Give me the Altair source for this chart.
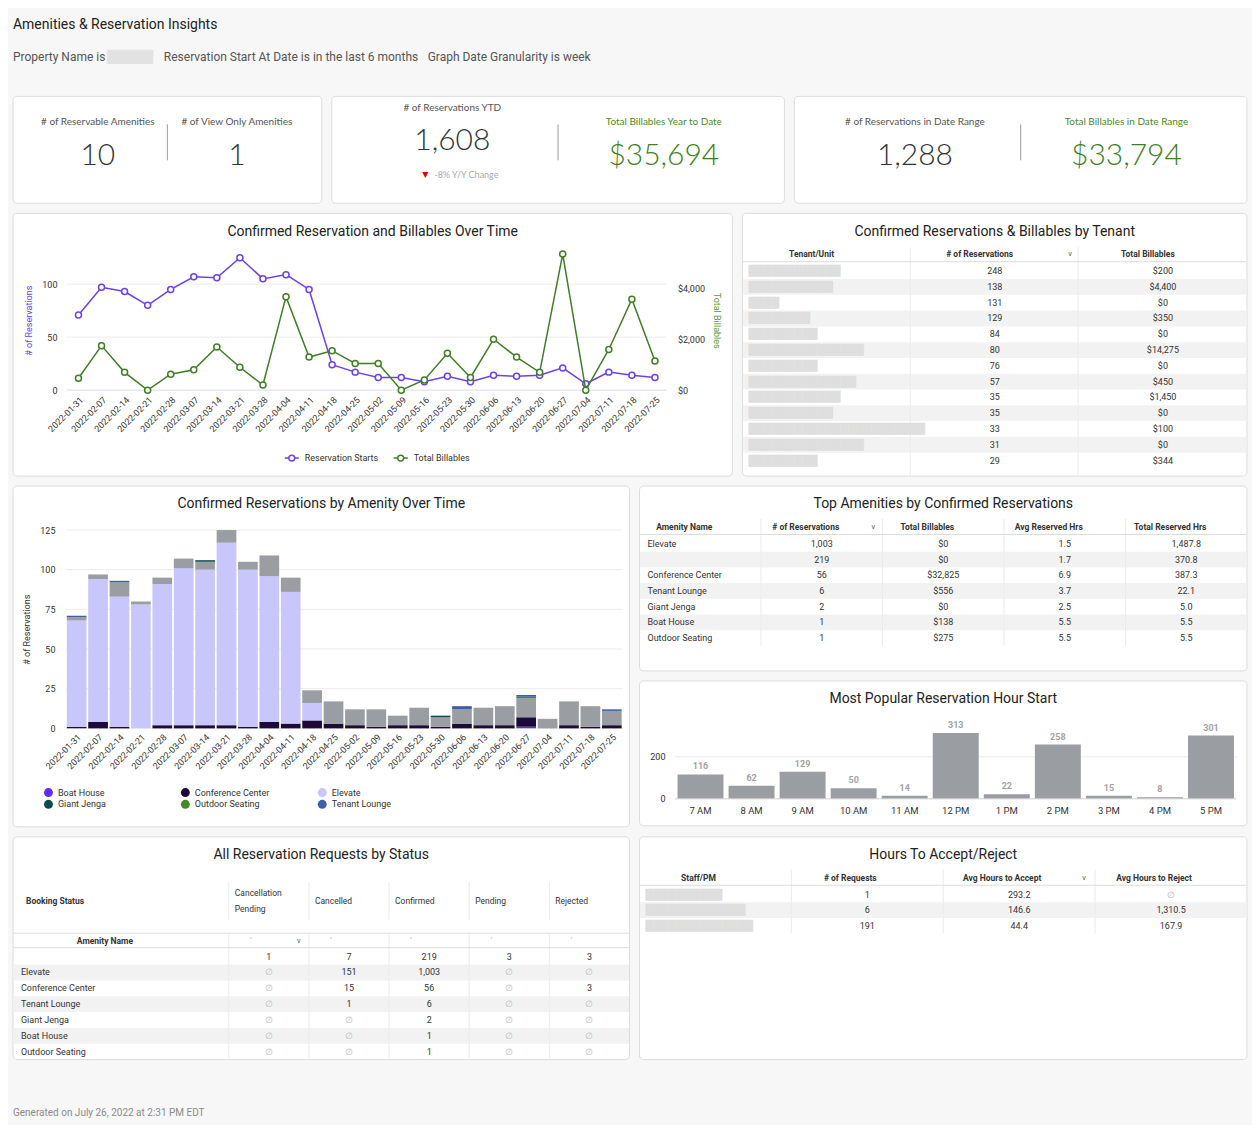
import altair as alt
import pandas as pd

# ------------------------------------------------------------------ data
weeks = ["2022-01-31", "2022-02-07", "2022-02-14", "2022-02-21", "2022-02-28",
         "2022-03-07", "2022-03-14", "2022-03-21", "2022-03-28", "2022-04-04",
         "2022-04-11", "2022-04-18", "2022-04-25", "2022-05-02", "2022-05-09",
         "2022-05-16", "2022-05-23", "2022-05-30", "2022-06-06", "2022-06-13",
         "2022-06-20", "2022-06-27", "2022-07-04", "2022-07-11", "2022-07-18",
         "2022-07-25"]
res_starts = [71, 97, 93, 80, 95, 107, 106, 125, 105, 109, 95, 24, 17, 12, 12,
              8, 13, 8, 14, 13, 14, 21, 6, 17, 14, 12]
billables = [469, 1750, 700, 0, 625, 800, 1700, 900, 200, 3675, 1300, 1550, 1050,
             1050, 0, 400, 1450, 500, 2000, 1300, 700, 5350, 0, 1600, 3575, 1150]
series_names = ["Reservation Starts", "Total Billables"]

UNNAMED = " "
amenity_order = ["Boat House", "Conference Center", "Elevate", UNNAMED,
                 "Giant Jenga", "Outdoor Seating", "Tenant Lounge"]
legend_amenities = ["Boat House", "Conference Center", "Elevate",
                    "Giant Jenga", "Outdoor Seating", "Tenant Lounge"]
amenity_colors = ["#5b2ef2", "#1c0b38", "#c8c6fb", "#9a9da2", "#0e4c4c",
                  "#3f8b24", "#3f5ea8"]
boat_house = [0, 0, 0, 0, 0, 0, 0, 0, 0, 0, 0, 0, 0, 0, 0, 0, 0, 0, 0, 0, 0, 1, 0, 0, 0, 0]
conference = [1, 4, 1, 0, 2, 2, 2, 2, 1, 4, 3, 5, 3, 2, 1, 2, 2, 1, 3, 2, 2, 6, 0, 2, 1, 2]
elevate = [67, 90, 82, 78, 89, 99, 98, 115, 99, 92, 83, 11, 0, 0, 0, 0, 0, 0, 0, 0, 0, 0, 0, 0, 0, 0]
unnamed = [2, 3, 9, 2, 4, 6, 5, 8, 5, 13, 9, 8, 14, 10, 11, 6, 11, 6, 9, 11, 12, 12, 6, 15, 13, 9]
giant_jenga = [0, 0, 0, 0, 0, 0, 1, 0, 0, 0, 0, 0, 0, 0, 0, 0, 0, 1, 0, 0, 0, 0, 0, 0, 0, 0]
outdoor = [0, 0, 0, 0, 0, 0, 0, 0, 0, 0, 0, 0, 0, 0, 0, 0, 0, 0, 0, 0, 0, 1, 0, 0, 0, 0]
tenant_lounge = [1, 0, 1, 0, 0, 0, 0, 0, 0, 0, 0, 0, 0, 0, 0, 0, 0, 0, 2, 0, 0, 1, 0, 0, 0, 1]

hour_labels = ["7 AM", "8 AM", "9 AM", "10 AM", "11 AM", "12 PM", "1 PM", "2 PM",
               "3 PM", "4 PM", "5 PM"]
hour_counts = [116, 62, 129, 50, 14, 313, 22, 258, 15, 8, 301]

kpi1_labels = ["# of Reservable Amenities", "# of View Only Amenities"]
kpi1_values = ["10", "1"]
kpi2_labels = ["# of Reservations YTD", "Total Billables Year to Date"]
kpi2_values = ["1,608", "$35,694"]
kpi2_change = ["▼", "-8%  Y/Y Change"]
kpi3_labels = ["# of Reservations in Date Range", "Total Billables in Date Range"]
kpi3_values = ["1,288", "$33,794"]

tenant_cols = ["Tenant/Unit", "# of Reservations", "Total Billables"]
tenant_names = ["█" * 12, "█" * 11, "█" * 4, "█" * 8, "█" * 9, "█" * 15, "█" * 9,
                "█" * 14, "█" * 12, "█" * 11, "█" * 23, "█" * 15, "█" * 9]
tenant_res = ["248", "138", "131", "129", "84", "80", "76", "57", "35", "35", "33", "31", "29"]
tenant_bill = ["$200", "$4,400", "$0", "$350", "$0", "$14,275", "$0", "$450",
               "$1,450", "$0", "$100", "$0", "$344"]

amen_cols = ["Amenity Name", "# of Reservations", "Total Billables",
             "Avg Reserved Hrs", "Total Reserved Hrs"]
amen_names = ["Elevate", UNNAMED, "Conference Center", "Tenant Lounge",
              "Giant Jenga", "Boat House", "Outdoor Seating"]
amen_res = ["1,003", "219", "56", "6", "2", "1", "1"]
amen_bill = ["$0", "$0", "$32,825", "$556", "$0", "$138", "$275"]
amen_avg = ["1.5", "1.7", "6.9", "3.7", "2.5", "5.5", "5.5"]
amen_total = ["1,487.8", "370.8", "387.3", "22.1", "5.0", "5.5", "5.5"]

status_cols = ["Cancellation Pending", "Cancelled", "Confirmed", "Pending", "Rejected"]
status_names = [UNNAMED, "Elevate", "Conference Center", "Tenant Lounge",
                "Giant Jenga", "Boat House", "Outdoor Seating"]
st_canc_pending = ["1", "∅", "∅", "∅", "∅", "∅", "∅"]
st_cancelled = ["7", "151", "15", "1", "∅", "∅", "∅"]
st_confirmed = ["219", "1,003", "56", "6", "2", "1", "1"]
st_pending = ["3", "∅", "∅", "∅", "∅", "∅", "∅"]
st_rejected = ["3", "∅", "3", "∅", "∅", "∅", "∅"]

staff_cols = ["Staff/PM", "# of Requests", "Avg Hours to Accept", "Avg Hours to Reject"]
staff_names = ["█" * 10, "█" * 13, "█" * 14]
staff_req = ["1", "6", "191"]
staff_acc = ["293.2", "146.6", "44.4"]
staff_rej = ["∅", "1,310.5", "167.9"]

# ------------------------------------------------------------------ style helpers
FONT = "Roboto"
KFONT = "Lato"
BORDER = "#dcdcdc"
TXT = "#333333"
PURPLE = "#6b40f3"
GREEN = "#3f7e24"
BAR_GRAY = "#9a9da2"
GAP = 8


def blank():
    return pd.DataFrame({"p": [0]})


def bg(W, H):
    return alt.Chart(blank()).mark_rect(
        fill="white", stroke=BORDER, strokeWidth=1, cornerRadius=4
    ).encode(x=alt.value(0), x2=alt.value(W), y=alt.value(0), y2=alt.value(H))


def label(text, x, y, size=9, color=TXT, weight="normal", align="center", font=FONT):
    return alt.Chart(pd.DataFrame({"t": [text]})).mark_text(
        font=font, fontSize=size, color=color, fontWeight=weight, align=align,
        baseline="middle"
    ).encode(x=alt.value(x), y=alt.value(y), text="t:N")


def title_text(text, x, y):
    return label(text, x, y, size=14, color="#222222")


def vrule(x, y1, y2, color="#ebebeb"):
    return alt.Chart(blank()).mark_rule(color=color, strokeWidth=1).encode(
        x=alt.value(x), y=alt.value(y1), y2=alt.value(y2))


def hrule(y, x1, x2, color="#dcdcdc"):
    return alt.Chart(blank()).mark_rule(color=color, strokeWidth=1).encode(
        y=alt.value(y), x=alt.value(x1), x2=alt.value(x2))


def table_body(cols, x_range, nrows, y_range, cells, W, stripes, names, name_x, name_style):
    xs = alt.X("col:N", scale=alt.Scale(type="band", domain=cols, range=x_range,
                                        paddingInner=0, paddingOuter=0), axis=None)
    ys = alt.Y("row:O", scale=alt.Scale(type="band", domain=list(range(nrows)), range=y_range,
                                        paddingInner=0, paddingOuter=0), axis=None)
    stripe = alt.Chart(pd.DataFrame({"row": stripes})).mark_rect(fill="#f2f2f2").encode(
        y=ys, x=alt.value(0.5), x2=alt.value(W - 0.5))
    df = pd.DataFrame(cells, columns=["col", "row", "t"])
    normal = alt.Chart(df[df.t != "∅"]).mark_text(
        font=FONT, fontSize=9, color=TXT, baseline="middle").encode(x=xs, y=ys, text="t:N")
    nulls = alt.Chart(df[df.t == "∅"]).mark_text(
        font=FONT, fontSize=9, color="#bdbdbd", baseline="middle").encode(x=xs, y=ys, text="t:N")
    nm = alt.Chart(pd.DataFrame({"row": list(range(len(names))), "name": names})).mark_text(
        align="left", baseline="middle", **name_style).encode(x=alt.value(name_x), y=ys, text="name:N")
    return xs, ys, stripe, [normal, nulls, nm]


def header_texts(xs, cols, y, dx):
    return alt.Chart(pd.DataFrame({"col": cols})).mark_text(
        font=FONT, fontSize=8.5, fontWeight="bold", color=TXT, dx=dx, baseline="middle"
    ).encode(x=xs, y=alt.value(y), text="col:N")


def chevron(x, y):
    return label("∨", x, y, size=7, color="#666666", font="DejaVu Sans")


REDACT = dict(font="DejaVu Sans", fontSize=10, color="#dedede")
PLAIN = dict(font=FONT, fontSize=9, color=TXT)

# ------------------------------------------------------------------ header / footer
header = alt.layer(
    label("Amenities & Reservation Insights", 0, 12, size=14, color="#222222", align="left"),
    label("Property Name is", 0, 44, size=12, color="#555555", align="left"),
    label("█" * 5, 94, 44, size=12, color="#e2e2e2", align="left", font="DejaVu Sans"),
    label("Reservation Start At Date is in the last 6 months", 151, 44, size=12,
          color="#555555", align="left"),
    label("Graph Date Granularity is week", 415, 44, size=12, color="#555555", align="left"),
).properties(width=1235, height=73)

footer = alt.layer(
    label("Generated on July 26, 2022 at 2:31 PM EDT", 0, 43, size=10,
          color="#8a8a8a", align="left"),
).properties(width=1235, height=50)


# ------------------------------------------------------------------ KPI tiles
def kpi_x(domain, pad):
    return alt.X("k:N", scale=alt.Scale(type="band", domain=domain, paddingInner=0,
                                        paddingOuter=pad), axis=None)


def kpi_item(domain, pad, lab, val, ly, vy, lcolor, vcolor):
    x = kpi_x(domain, pad)
    d = pd.DataFrame({"k": [lab], "v": [val]})
    l1 = alt.Chart(d).mark_text(font=KFONT, fontSize=10, color=lcolor, baseline="middle").encode(
        x=x, y=alt.value(ly), text="k:N")
    l2 = alt.Chart(d).mark_text(font=KFONT, fontSize=30, fontWeight=300, color=vcolor,
                                baseline="middle").encode(x=x, y=alt.value(vy), text="v:N")
    return [l1, l2]


K1W, K2W, K3W, KH = 309, 453, 453, 107
NUM = "#2f353a"
kpi1 = alt.layer(
    bg(K1W, KH),
    *kpi_item(kpi1_labels, 0.11, kpi1_labels[0], kpi1_values[0], 26, 60, "#555555", NUM),
    *kpi_item(kpi1_labels, 0.11, kpi1_labels[1], kpi1_values[1], 26, 60, "#555555", NUM),
    vrule(K1W / 2, 28, 64, "#9a9a9a"),
).properties(width=K1W, height=KH)

kx2 = kpi_x(kpi2_labels, 0.07)
chg = pd.DataFrame({"k": [kpi2_labels[0]], "a": [kpi2_change[0]], "b": [kpi2_change[1]]})
kpi2 = alt.layer(
    bg(K2W, KH),
    *kpi_item(kpi2_labels, 0.07, kpi2_labels[0], kpi2_values[0], 12, 45, "#555555", NUM),
    *kpi_item(kpi2_labels, 0.07, kpi2_labels[1], kpi2_values[1], 26, 60, "#4a8a2e", GREEN),
    alt.Chart(chg).mark_text(font="DejaVu Sans", fontSize=8, color="#e00000", dx=-27,
                             baseline="middle").encode(x=kx2, y=alt.value(79), text="a:N"),
    alt.Chart(chg).mark_text(font=KFONT, fontSize=9, color="#aaaaaa", dx=-18, align="left",
                             baseline="middle").encode(x=kx2, y=alt.value(79), text="b:N"),
    vrule(K2W / 2, 28, 64, "#9a9a9a"),
).properties(width=K2W, height=KH)

kpi3 = alt.layer(
    bg(K3W, KH),
    *kpi_item(kpi3_labels, 0.07, kpi3_labels[0], kpi3_values[0], 26, 60, "#555555", NUM),
    *kpi_item(kpi3_labels, 0.07, kpi3_labels[1], kpi3_values[1], 26, 60, "#4a8a2e", GREEN),
    vrule(K3W / 2, 28, 64, "#9a9a9a"),
).properties(width=K3W, height=KH)

# ------------------------------------------------------------------ line chart
LW, LH = 720, 263
lx0, lx1, ly0, ly1 = 54, 654, 177, 37     # plot region inside the panel
LEG_PATH = "M-1,0H-0.42M0.42,0H1M-0.42,0A0.42,0.42,0,1,1,0.42,0A0.42,0.42,0,1,1,-0.42,0"
x_week_pt = alt.X("week:O", scale=alt.Scale(type="point", domain=weeks, padding=0.5,
                                            range=[lx0, lx1]),
                  axis=alt.Axis(title=None, labelAngle=-45, labelPadding=5,
                                offset=-(LH - ly0), zindex=1))
series_color = alt.Color(
    "series:N", scale=alt.Scale(domain=series_names, range=[PURPLE, GREEN]),
    legend=alt.Legend(orient="none", legendX=271, legendY=237, direction="horizontal",
                      title=None, symbolType=LEG_PATH, symbolSize=196,
                      symbolStrokeWidth=1.5, symbolFillColor="white",
                      columnPadding=12, labelOffset=5))
res_scale = alt.Scale(domain=[0, 132], nice=False, range=[ly0, ly1])
pt = alt.OverlayMarkDef(filled=False, fill="white", size=36, strokeWidth=1.5)
df_res = pd.DataFrame({"week": weeks, "res": res_starts, "series": series_names[0]})
df_bill = pd.DataFrame({"week": weeks, "bill": billables, "series": series_names[1]})
line_grid = alt.Chart(pd.DataFrame({"g": [50, 100]})).mark_rule(color="#ececec").encode(
    y=alt.Y("g:Q", scale=res_scale, axis=None), x=alt.value(lx0), x2=alt.value(lx1))
line_zero = alt.Chart(pd.DataFrame({"g": [0]})).mark_rule(color="#d9d9f3").encode(
    y=alt.Y("g:Q", scale=res_scale, axis=None), x=alt.value(lx0), x2=alt.value(lx1))
res_line = alt.Chart(df_res).mark_line(strokeWidth=1.5, point=pt).encode(
    x=x_week_pt,
    y=alt.Y("res:Q", scale=res_scale,
            axis=alt.Axis(values=[0, 50, 100], title="# of Reservations", titleColor=PURPLE,
                          labelPadding=10, titlePadding=8, offset=-lx0, zindex=1)),
    color=series_color)
bill_line = alt.Chart(df_bill).mark_line(strokeWidth=1.5, point=pt).encode(
    x=x_week_pt,
    y=alt.Y("bill:Q", scale=alt.Scale(domain=[0, 5500], nice=False, range=[ly0, ly1]),
            axis=alt.Axis(orient="right", values=[0, 2000, 4000], format="$,.0f",
                          title="Total Billables", titleColor="#5c9a3c",
                          labelPadding=11, titlePadding=7, offset=-(LW - lx1), zindex=1)),
    color=series_color)
line_panel = alt.layer(
    bg(LW, LH),
    title_text("Confirmed Reservation and Billables Over Time", LW / 2, 19),
    line_grid, line_zero, res_line, bill_line,
).resolve_scale(y="independent").properties(width=LW, height=LH)

# ------------------------------------------------------------------ tenant table
TW, TH, TT = 505, 263, 50
t_n = len(tenant_res)
t_bh = t_n * 15.8
t_cells = [("# of Reservations", i, v) for i, v in enumerate(tenant_res)] + \
          [("Total Billables", i, v) for i, v in enumerate(tenant_bill)]
txs, tys, t_stripe, t_body = table_body(tenant_cols, [0, TW], t_n, [TT, TT + t_bh], t_cells, TW,
                                        [1, 3, 5, 7, 9, 11], tenant_names, 6, REDACT)
tenant_panel = alt.layer(
    bg(TW, TH),
    title_text("Confirmed Reservations & Billables by Tenant", TW / 2, 19),
    t_stripe,
    vrule(168, 34, TH - 1), vrule(336, 34, TH - 1),
    hrule(48.5, 0.5, TW - 0.5),
    header_texts(txs, tenant_cols, 41, -15),
    chevron(328, 41),
    *t_body,
).properties(width=TW, height=TH)

# ------------------------------------------------------------------ stacked bars
SW, SH = 617, 341
sx0, sx1, sy0, sy1 = 53, 610, 242.5, 44
stack_rows = []
for rank, (name, vals) in enumerate(zip(amenity_order, [boat_house, conference, elevate, unnamed,
                                                         giant_jenga, outdoor, tenant_lounge])):
    for w, v in zip(weeks, vals):
        if v > 0:
            stack_rows.append({"week": w, "amenity": name, "n": v, "rank": rank})
df_stack = pd.DataFrame(stack_rows)


def y_stack():
    return alt.Scale(domain=[0, 125], nice=False, range=[sy0, sy1])


stack_grid = alt.Chart(pd.DataFrame({"g": [0, 25, 50, 75, 100, 125]})).mark_rule(
    color="#ececec").encode(y=alt.Y("g:Q", scale=y_stack(), axis=None),
                            x=alt.value(sx0), x2=alt.value(sx1))
stack_bars = alt.Chart(df_stack).mark_bar().encode(
    x=alt.X("week:O", scale=alt.Scale(type="band", domain=weeks, paddingInner=0.08,
                                      paddingOuter=0.04, range=[sx0, sx1]),
            axis=alt.Axis(title=None, labelAngle=-45, labelPadding=4, offset=-(SH - sy0),
                          zindex=1)),
    y=alt.Y("n:Q", stack="zero", scale=y_stack(),
            axis=alt.Axis(values=[0, 25, 50, 75, 100, 125], title="# of Reservations",
                          labelPadding=11, titlePadding=8, offset=-sx0, zindex=1)),
    color=alt.Color("amenity:N", scale=alt.Scale(domain=amenity_order, range=amenity_colors),
                    legend=alt.Legend(orient="none", legendX=31, legendY=302, columns=3,
                                      direction="horizontal",
                                      gridAlign="all", columnPadding=48, rowPadding=2,
                                      symbolType="circle", symbolSize=80, symbolStrokeWidth=0,
                                      labelOffset=5, title=None, values=legend_amenities)),
    order=alt.Order("rank:Q", sort="ascending"),
)
stack_panel = alt.layer(
    bg(SW, SH),
    title_text("Confirmed Reservations by Amenity Over Time", SW / 2, 18),
    stack_grid, stack_bars,
).resolve_scale(y="independent").properties(width=SW, height=SH)

# ------------------------------------------------------------------ top amenities table
AW, AH, AT = 608, 185, 50
a_n = len(amen_names)
a_bh = a_n * 15.7
a_cells = []
for c, vals in zip(amen_cols[1:], [amen_res, amen_bill, amen_avg, amen_total]):
    a_cells += [(c, i, v) for i, v in enumerate(vals)]
axs, ays, a_stripe, a_body = table_body(amen_cols, [0, AW], a_n, [AT, AT + a_bh], a_cells, AW,
                                        [1, 3, 5], amen_names, 8, PLAIN)
a_step = AW / 5
amen_panel = alt.layer(
    bg(AW, AH),
    title_text("Top Amenities by Confirmed Reservations", AW / 2, 18),
    a_stripe,
    *[vrule(a_step * k, 33, AT + a_bh) for k in range(1, 5)],
    hrule(48.5, 0.5, AW - 0.5),
    header_texts(axs, amen_cols, 41, -16),
    chevron(234, 41),
    *a_body,
).properties(width=AW, height=AH)

# ------------------------------------------------------------------ hour bar chart
HW, HH = 608, 145
hx0, hx1, hy0, hy1 = 35.5, 597.5, 118, 48
df_hours = pd.DataFrame({"hour": hour_labels, "n": hour_counts})


def h_scale():
    return alt.Scale(domain=[0, 333], nice=False, range=[hy0, hy1])


h_x = alt.X("hour:N", sort=hour_labels,
            scale=alt.Scale(type="band", domain=hour_labels, paddingInner=0.1,
                            paddingOuter=0.05, range=[hx0, hx1]),
            axis=alt.Axis(title=None, labelAngle=0, labelPadding=7, labelFontSize=9.5,
                          offset=-(HH - hy0), zindex=1))
hour_panel = alt.layer(
    bg(HW, HH),
    title_text("Most Popular Reservation Hour Start", HW / 2, 18),
    alt.Chart(pd.DataFrame({"g": [200]})).mark_rule(color="#ececec").encode(
        y=alt.Y("g:Q", scale=h_scale(), axis=None), x=alt.value(hx0), x2=alt.value(hx1)),
    alt.Chart(df_hours).mark_bar(color=BAR_GRAY).encode(
        x=h_x,
        y=alt.Y("n:Q", scale=h_scale(),
                axis=alt.Axis(values=[0, 200], title=None, labelPadding=10, offset=-hx0,
                              zindex=1))),
    alt.Chart(df_hours).mark_text(font=FONT, fontSize=9, fontWeight="bold", color="#a3a3a3",
                                  dy=-8, baseline="middle").encode(
        x=h_x, y=alt.Y("n:Q", scale=h_scale(), axis=None), text="n:Q"),
    alt.Chart(pd.DataFrame({"g": [0]})).mark_rule(color="#d0d0d0").encode(
        y=alt.Y("g:Q", scale=h_scale(), axis=None), x=alt.value(hx0), x2=alt.value(hx1)),
).resolve_scale(y="independent").properties(width=HW, height=HH)

# ------------------------------------------------------------------ status table
PW, PH, PT = 617, 223, 112
p_n = len(status_names)
p_bh = p_n * 15.86
p_cells = []
for c, vals in zip(status_cols, [st_canc_pending, st_cancelled, st_confirmed, st_pending, st_rejected]):
    p_cells += [(c, i, v) for i, v in enumerate(vals)]
pxs, pys, p_stripe, p_body = table_body(status_cols, [216, PW], p_n, [PT, PT + p_bh], p_cells, PW,
                                        [1, 3, 5], status_names, 8, PLAIN)
p_step = (PW - 216) / 5
p_edges = [216 + p_step * k for k in range(5)]
p_head = pd.DataFrame({"col": status_cols[1:]})
p_two = pd.DataFrame({"col": [status_cols[0]], "a": ["Cancellation"], "b": ["Pending"]})
head_style = dict(font=FONT, fontSize=8.5, color=TXT, align="left", baseline="middle",
                  dx=-p_step / 2 + 6)
status_panel = alt.layer(
    bg(PW, PH),
    title_text("All Reservation Requests by Status", PW / 2, 18),
    p_stripe,
    *[vrule(e, 45, 83) for e in p_edges],
    *[vrule(e, 98, PH - 1) for e in p_edges],
    hrule(96.5, 0.5, PW - 0.5), hrule(111, 0.5, PW - 0.5),
    label("Booking Status", 13, 64, size=8.5, weight="bold", align="left"),
    alt.Chart(p_head).mark_text(**head_style).encode(x=pxs, y=alt.value(64), text="col:N"),
    alt.Chart(p_two).mark_text(**head_style).encode(x=pxs, y=alt.value(56), text="a:N"),
    alt.Chart(p_two).mark_text(**head_style).encode(x=pxs, y=alt.value(72), text="b:N"),
    label("Amenity Name", 92, 104, size=8.5, weight="bold"),
    alt.Chart(pd.DataFrame({"col": status_cols, "t": ["'"] * 5})).mark_text(
        font=FONT, fontSize=7, color="#999999", dx=-18, baseline="middle").encode(
        x=pxs, y=alt.value(103), text="t:N"),
    chevron(286, 104),
    *p_body,
).properties(width=PW, height=PH)

# ------------------------------------------------------------------ hours to accept table
QW, QH, QT = 608, 223, 50
q_n = len(staff_names)
q_bh = q_n * 15.6
q_cells = []
for c, vals in zip(staff_cols[1:], [staff_req, staff_acc, staff_rej]):
    q_cells += [(c, i, v) for i, v in enumerate(vals)]
qxs, qys, q_stripe, q_body = table_body(staff_cols, [0, QW], q_n, [QT, QT + q_bh], q_cells, QW,
                                        [1], staff_names, 6, REDACT)
hours_panel = alt.layer(
    bg(QW, QH),
    title_text("Hours To Accept/Reject", QW / 2, 18),
    q_stripe,
    *[vrule(152 * k, 33, QT + q_bh) for k in range(1, 4)],
    hrule(48.5, 0.5, QW - 0.5),
    header_texts(qxs, staff_cols, 41, -17),
    chevron(445, 41),
    *q_body,
).properties(width=QW, height=QH)

# ------------------------------------------------------------------ assemble
row1 = alt.hconcat(kpi1, kpi2, kpi3, spacing=GAP)
row2 = alt.hconcat(line_panel, tenant_panel, spacing=GAP)
row3 = alt.hconcat(stack_panel, alt.vconcat(amen_panel, hour_panel, spacing=GAP), spacing=GAP)
row4 = alt.hconcat(status_panel, hours_panel, spacing=GAP)

chart = alt.vconcat(header, row1, row2, row3, row4, footer, spacing=GAP).resolve_scale(
    color="independent"
).properties(
    padding=4, background="#f7f7f7"
).configure(
    font=FONT
).configure_view(
    stroke="transparent"
).configure_axis(
    labelFont=FONT, labelFontSize=9, labelColor=TXT, titleFont=FONT, titleFontSize=9,
    titleFontWeight="normal", titleColor=TXT, ticks=False, domain=False, grid=False
).configure_legend(
    labelFont=FONT, labelFontSize=9, labelColor=TXT
)

chart.save("out.html", embed_options={"renderer": "svg", "actions": False})
